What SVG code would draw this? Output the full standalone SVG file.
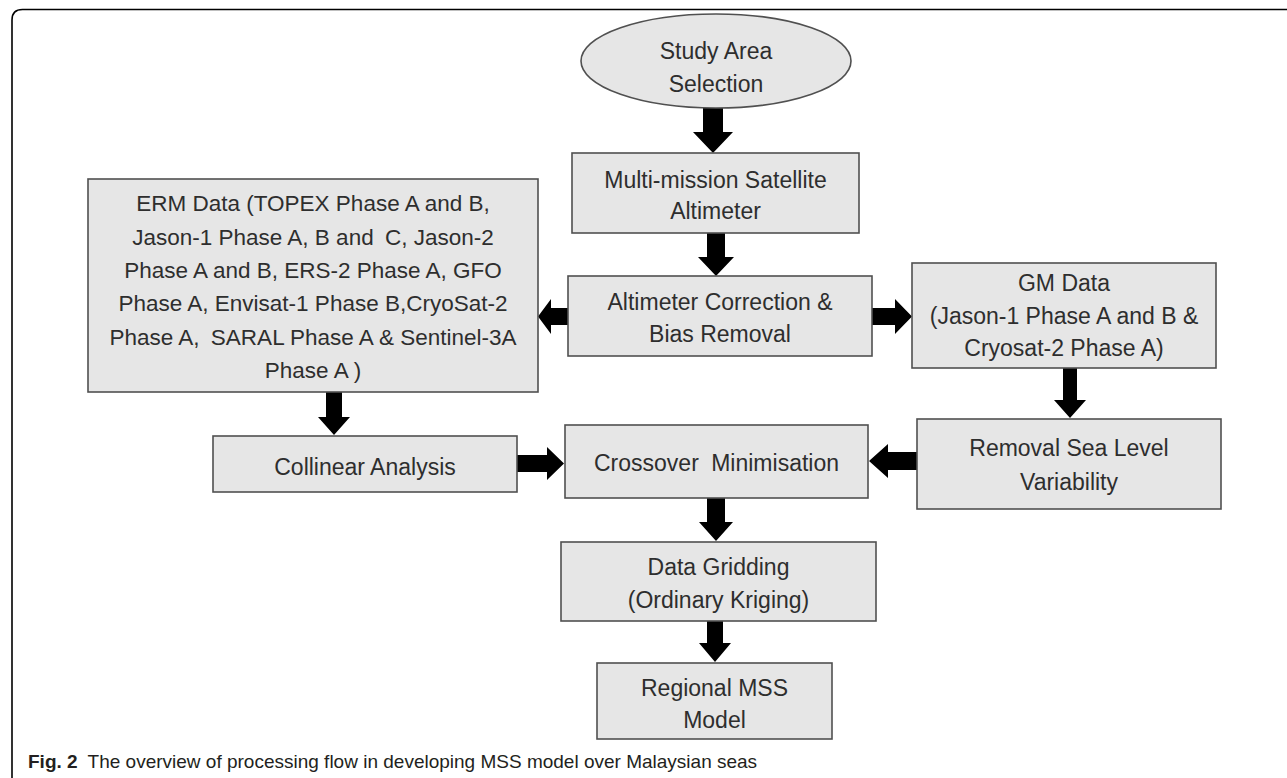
<svg xmlns="http://www.w3.org/2000/svg" width="1287" height="778" viewBox="0 0 1287 778">
  <style>
    .box { fill: #e6e6e6; stroke: #505050; stroke-width: 1.6; }
    .t { font-family: "Liberation Sans", Arial, sans-serif; font-size: 23px; fill: #2e2e2e; text-anchor: middle; }
    .erm { font-size: 22.5px; }
    .arrow { fill: #000000; stroke: none; }
    .cap { font-family: "Liberation Sans", Arial, sans-serif; font-size: 19px; fill: #231f20; }
    .frame { fill: none; stroke: #000000; stroke-width: 1.6; }
  </style>
  <rect x="0" y="0" width="1287" height="778" fill="#ffffff"/>
  <path class="frame" d="M 12 778 L 12 20 Q 12 9.5 22.5 9.5 L 1287 9.5"/>

  <g id="connectors">
    <polygon class="arrow" points="703,108 723,108 723,132 733,132 713,153 693,132 703,132"/>
    <polygon class="arrow" points="707,233 725,233 725,257 734,257 716,276 698,257 707,257"/>
    <polygon class="arrow" points="568,308 568,325 551,325 551,334 538,316.5 551,299 551,308"/>
    <polygon class="arrow" points="872,308 895,308 895,299 912,316.5 895,334 895,325 872,325"/>
    <polygon class="arrow" points="1063,368 1077,368 1077,400 1086,400 1070,418 1054,400 1063,400"/>
    <polygon class="arrow" points="917,452 917,470 888,470 888,478 869,461 888,444 888,452"/>
    <polygon class="arrow" points="326,392 342,392 342,417 350,417 334,435 318,417 326,417"/>
    <polygon class="arrow" points="517,455 547,455 547,447 564,463.5 547,480 547,472 517,472"/>
    <polygon class="arrow" points="707,498 725,498 725,522 733,522 716,541 699,522 707,522"/>
    <polygon class="arrow" points="707,621 723,621 723,643 731,643 715,662 699,643 707,643"/>
  </g>

  <g id="study-area">
    <ellipse class="box" cx="716" cy="61" rx="135" ry="47"/>
    <text class="t" x="716" y="59">Study Area</text>
    <text class="t" x="716" y="92">Selection</text>
  </g>

  <g id="multi-mission">
    <rect class="box" x="572" y="153" width="287" height="80"/>
    <text class="t" x="715.5" y="188">Multi-mission Satellite</text>
    <text class="t" x="715.5" y="219">Altimeter</text>
  </g>

  <g id="altimeter-correction">
    <rect class="box" x="568" y="276" width="304" height="80"/>
    <text class="t" x="720" y="310">Altimeter Correction &amp;</text>
    <text class="t" x="720" y="342">Bias Removal</text>
  </g>

  <g id="erm-data">
    <rect class="box" x="88" y="179" width="450" height="213"/>
    <text class="t erm" x="313" y="211">ERM Data (TOPEX Phase A and B,</text>
    <text class="t erm" x="313" y="245">Jason-1 Phase A, B and <tspan dx="5">C, Jason-2</tspan></text>
    <text class="t erm" x="313" y="278">Phase A and B, ERS-2 Phase A, GFO</text>
    <text class="t erm" x="313" y="311">Phase A, Envisat-1 Phase B,CryoSat-2</text>
    <text class="t erm" x="313" y="345">Phase A, <tspan dx="5">SARAL Phase A &amp; Sentinel-3A</tspan></text>
    <text class="t erm" x="313" y="378">Phase A )</text>
  </g>

  <g id="gm-data">
    <rect class="box" x="912" y="263" width="304" height="105"/>
    <text class="t" x="1064" y="291">GM Data</text>
    <text class="t" x="1064" y="324">(Jason-1 Phase A and B &amp;</text>
    <text class="t" x="1064" y="356">Cryosat-2 Phase A)</text>
  </g>

  <g id="collinear">
    <rect class="box" x="213" y="436" width="304" height="56"/>
    <text class="t" x="365" y="475">Collinear Analysis</text>
  </g>

  <g id="crossover">
    <rect class="box" x="565" y="425" width="303" height="73"/>
    <text class="t" x="716.5" y="471">Crossover <tspan dx="6">Minimisation</tspan></text>
  </g>

  <g id="removal-slv">
    <rect class="box" x="917" y="419" width="304" height="90"/>
    <text class="t" x="1069" y="456">Removal Sea Level</text>
    <text class="t" x="1069" y="490">Variability</text>
  </g>

  <g id="data-gridding">
    <rect class="box" x="561" y="542" width="315" height="79"/>
    <text class="t" x="718.5" y="575">Data Gridding</text>
    <text class="t" x="718.5" y="608">(Ordinary Kriging)</text>
  </g>

  <g id="regional-mss">
    <rect class="box" x="597" y="663" width="235" height="76"/>
    <text class="t" x="714.5" y="696">Regional MSS</text>
    <text class="t" x="714.5" y="728">Model</text>
  </g>

  <g id="caption">
    <text class="cap" x="28" y="768"><tspan font-weight="bold">Fig. 2</tspan><tspan dx="5"> The overview of processing flow in developing MSS model over Malaysian seas</tspan></text>
  </g>
</svg>
